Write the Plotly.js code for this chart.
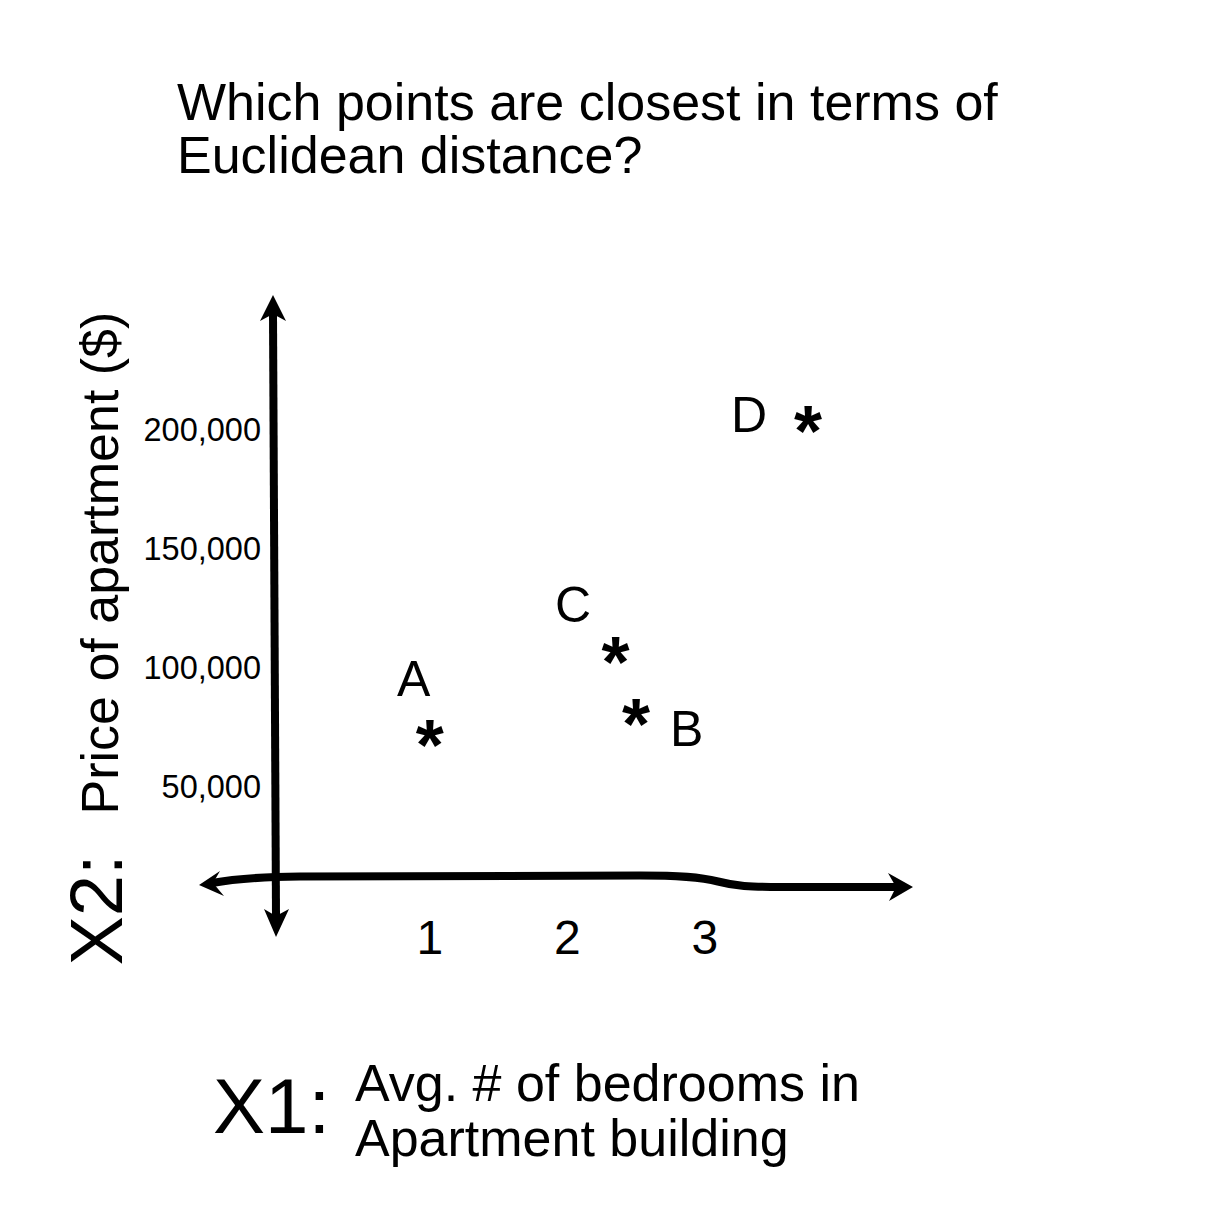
<!DOCTYPE html>
<html>
<head>
<meta charset="utf-8">
<script src="https://cdn.plot.ly/plotly-3.0.1.min.js"></script>
<style>html,body{margin:0;padding:0;background:#fff;}</style>
</head>
<body>
<div id="chart" style="width:1212px;height:1226px;"></div>
<script>
// ---- data ----
var pointLabels = ['A', 'B', 'C', 'D'];
var bedrooms = [1.0, 2.5, 2.35, 3.75];          // X1: avg. # of bedrooms
var prices = [72000, 81000, 107000, 204000];    // X2: price of apartment ($)
var xTickVals = [1, 2, 3];
var xTickText = ['1', '2', '3'];
var yTickVals = [50000, 100000, 150000, 200000];
var yTickText = ['50,000', '100,000', '150,000', '200,000'];
var titleLines = ['Which points are closest in terms of', 'Euclidean distance?'];

// ---- layout geometry ----
var W = 1212, H = 1226;
var M = {l: 262, r: 250, t: 250, b: 321};
var PW = W - M.l - M.r, PH = H - M.t - M.b;
function px(x) { return (x - M.l) / PW; }
function py(y) { return (H - M.b - y) / PH; }
function pathOf(cmds) {
  return cmds.map(function (c) {
    var v = [];
    for (var i = 1; i < c.length; i += 2) v.push(px(c[i]) + ',' + py(c[i + 1]));
    return c[0] + v.join(' ');
  }).join(' ');
}
var FONT = 'Liberation Sans, Arial, sans-serif';

// hand-drawn axes (decoration)
var stroke = {color: '#000', width: 8};
var shapes = [
  {type: 'path', xref: 'paper', yref: 'paper', line: stroke,
   path: pathOf([['M', 273, 314], ['L', 276, 916]])},
  {type: 'path', xref: 'paper', yref: 'paper', line: {width: 0}, fillcolor: '#000',
   path: pathOf([['M', 273, 295], ['L', 286, 321], ['L', 273, 314], ['L', 260, 321]]) + ' Z'},
  {type: 'path', xref: 'paper', yref: 'paper', line: {width: 0}, fillcolor: '#000',
   path: pathOf([['M', 276, 937], ['L', 264, 909], ['L', 276, 916], ['L', 289, 909]]) + ' Z'},
  {type: 'path', xref: 'paper', yref: 'paper', line: stroke,
   path: pathOf([['M', 212, 883], ['Q', 245, 877, 300, 876.5], ['L', 640, 875.5],
                 ['C', 680, 875.5, 700, 877, 718, 881.5], ['C', 735, 886, 750, 887, 780, 887],
                 ['L', 897, 887]])},
  {type: 'path', xref: 'paper', yref: 'paper', line: {width: 0}, fillcolor: '#000',
   path: pathOf([['M', 199, 885], ['L', 220, 871], ['L', 213, 883], ['L', 224, 896]]) + ' Z'},
  {type: 'path', xref: 'paper', yref: 'paper', line: {width: 0}, fillcolor: '#000',
   path: pathOf([['M', 913, 887], ['L', 888, 873], ['L', 896, 887], ['L', 889, 901]]) + ' Z'}
];

// asterisk glyphs; outer font size = 2x glyph size so the glyph is centred on the point
var STAR = 72;
var pointTrace = {
  type: 'scatter', mode: 'text',
  x: bedrooms, y: prices,
  text: bedrooms.map(function () { return '<span style="font-size:' + STAR + 'px"><b>*</b></span>'; }),
  textposition: 'middle center',
  textfont: {family: FONT, size: 2 * STAR, color: '#000'},
  cliponaxis: false,
  hoverinfo: 'skip', showlegend: false
};

var labelShift = {A: [-16, 55], B: [50, -16], C: [-42, 46], D: [-59, 5]};
var annotations = pointLabels.map(function (lab, i) {
  return {x: bedrooms[i], y: prices[i], xref: 'x', yref: 'y', text: lab, showarrow: false,
          xshift: labelShift[lab][0], yshift: labelShift[lab][1],
          font: {family: FONT, size: 50, color: '#000'}};
});
// second title line
annotations.push({xref: 'paper', yref: 'paper', x: px(175), y: py(154.5), text: titleLines[1],
  showarrow: false, xanchor: 'left', yanchor: 'middle', font: {family: FONT, size: 52, color: '#000'}});
// y-axis title
annotations.push({xref: 'paper', yref: 'paper', x: px(96.5), y: py(910), textangle: -90,
  text: 'X2:', showarrow: false, xanchor: 'center', yanchor: 'middle',
  font: {family: FONT, size: 74, color: '#000'}});
annotations.push({xref: 'paper', yref: 'paper', x: px(99.5), y: py(563), textangle: -90,
  text: 'Price of apartment ($)', showarrow: false, xanchor: 'center', yanchor: 'middle',
  font: {family: FONT, size: 52, color: '#000'}});
// x-axis title
annotations.push({xref: 'paper', yref: 'paper', x: px(271), y: py(1106), text: 'X1:',
  showarrow: false, xanchor: 'center', yanchor: 'middle', font: {family: FONT, size: 78, color: '#000'}});
annotations.push({xref: 'paper', yref: 'paper', x: px(353), y: py(1083), text: 'Avg. # of bedrooms in',
  showarrow: false, xanchor: 'left', yanchor: 'middle', font: {family: FONT, size: 52, color: '#000'}});
annotations.push({xref: 'paper', yref: 'paper', x: px(353), y: py(1138), text: 'Apartment building',
  showarrow: false, xanchor: 'left', yanchor: 'middle', font: {family: FONT, size: 52, color: '#000'}});

var layout = {
  width: W, height: H, margin: M,
  paper_bgcolor: '#fff', plot_bgcolor: '#fff',
  font: {family: FONT, color: '#000'},
  title: {text: titleLines[0],
          xref: 'container', yref: 'container', x: 177 / W, xanchor: 'left',
          y: 1 - 101.5 / H, yanchor: 'middle',
          font: {family: FONT, size: 52, color: '#000'}},
  xaxis: {range: [(M.l - 292.3) / 137.5, (W - M.r - 292.3) / 137.5],
          tickvals: xTickVals, ticktext: xTickText, ticks: '',
          showgrid: false, zeroline: false, showline: false,
          tickfont: {family: FONT, size: 48, color: '#000'}},
  yaxis: {range: [(905.5 - (H - M.b)) / 2.38 * 1000, (905.5 - M.t) / 2.38 * 1000],
          tickvals: yTickVals, ticktext: yTickText, ticks: '',
          showgrid: false, zeroline: false, showline: false,
          tickfont: {family: FONT, size: 32.5, color: '#000'}},
  shapes: shapes,
  annotations: annotations,
  showlegend: false
};

Plotly.newPlot('chart', [pointTrace], layout, {displayModeBar: false, staticPlot: true});
</script>
</body>
</html>
